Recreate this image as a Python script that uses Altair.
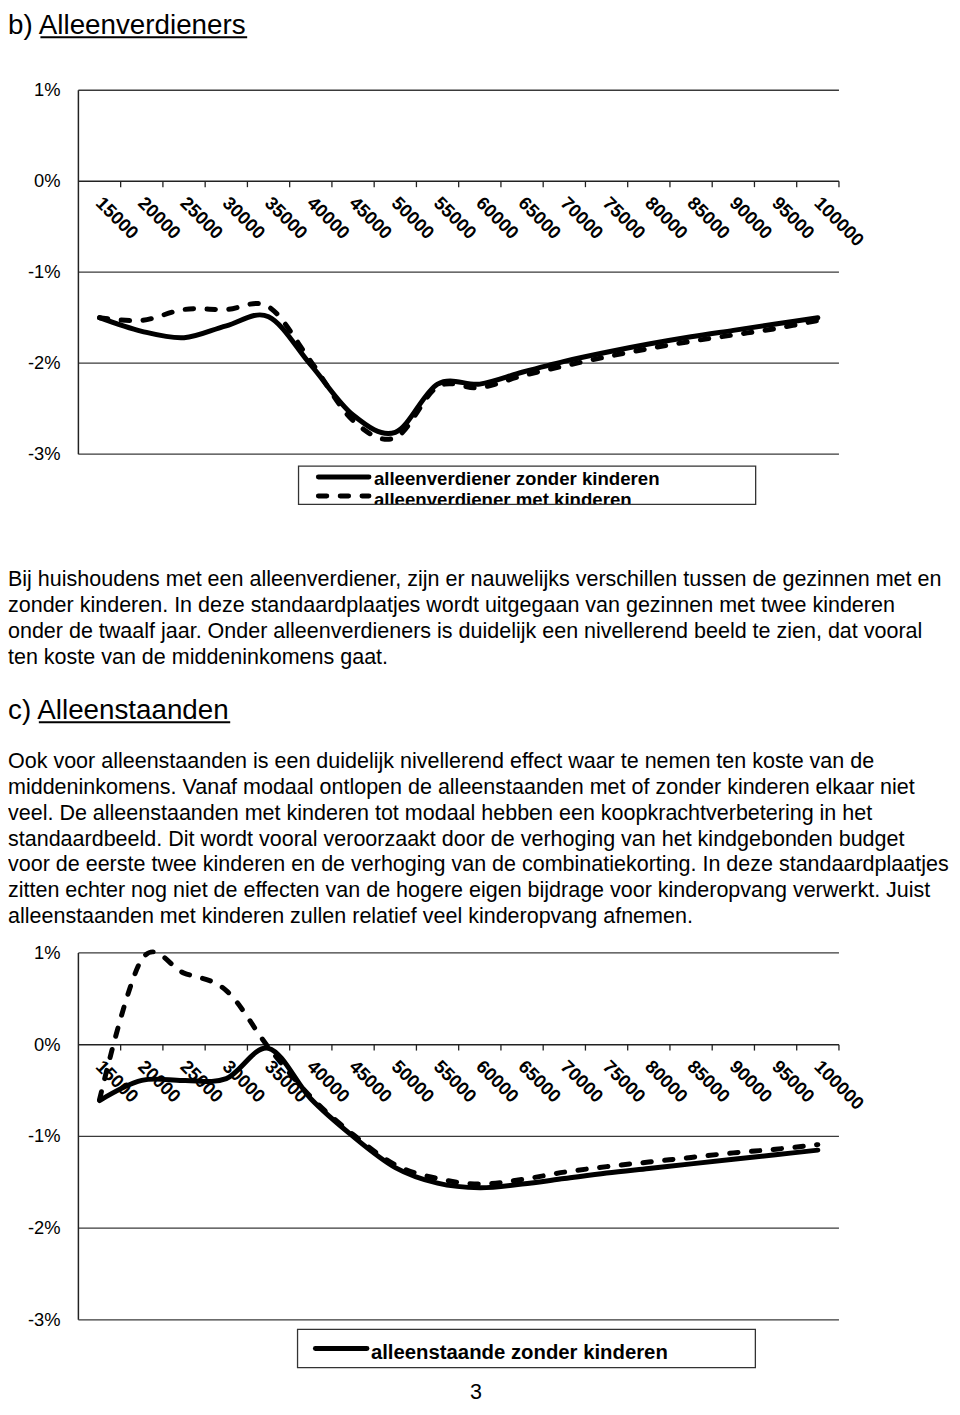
import altair as alt
import pandas as pd

FONT = "Liberation Sans"
W, H = 952, 1399

# ---------------- data ----------------
incomes = [15000, 20000, 25000, 30000, 35000, 40000, 45000, 50000, 55000,
           60000, 65000, 70000, 75000, 80000, 85000, 90000, 95000, 100000]
income_labels = ["15000", "20000", "25000", "30000", "35000", "40000", "45000",
                 "50000", "55000", "60000", "65000", "70000", "75000", "80000",
                 "85000", "90000", "95000", "100000"]
# category boundaries (tick marks sit between the categories)
tick_bounds = [17500, 22500, 27500, 32500, 37500, 42500, 47500, 52500, 57500,
               62500, 67500, 72500, 77500, 82500, 87500, 92500, 97500, 102500]
pct_values = [1, 0, -1, -2, -3]
pct_labels = ["1%", "0%", "-1%", "-2%", "-3%"]
grid_values = [1, -1, -2, -3]

ab_names = ["alleenverdiener zonder kinderen", "alleenverdiener met kinderen"]
ab_zonder = [-1.50, -1.65, -1.72, -1.59, -1.49, -2.02, -2.57, -2.76, -2.23,
             -2.23, -2.10, -1.98, -1.88, -1.79, -1.71, -1.64, -1.57, -1.50]
ab_met = [-1.50, -1.53, -1.41, -1.41, -1.38, -1.98, -2.63, -2.82, -2.26,
          -2.27, -2.14, -2.03, -1.93, -1.84, -1.76, -1.69, -1.62, -1.53]

as_names = ["alleenstaande zonder kinderen", "alleenstaande met kinderen"]
as_zonder = [-0.61, -0.39, -0.39, -0.37, -0.04, -0.59, -1.00, -1.34, -1.51,
             -1.56, -1.52, -1.46, -1.40, -1.35, -1.30, -1.25, -1.20, -1.15]
as_met = [-0.60, 0.93, 0.78, 0.59, -0.03, -0.57, -0.98, -1.31, -1.46,
          -1.52, -1.47, -1.39, -1.33, -1.28, -1.23, -1.18, -1.14, -1.09]

title_b = "b) Alleenverdieners"
para_b = [
    "Bij huishoudens met een alleenverdiener, zijn er nauwelijks verschillen tussen de gezinnen met en",
    "zonder kinderen. In deze standaardplaatjes wordt uitgegaan van gezinnen met twee kinderen",
    "onder de twaalf jaar. Onder alleenverdieners is duidelijk een nivellerend beeld te zien, dat vooral",
    "ten koste van de middeninkomens gaat.",
]
title_c = "c) Alleenstaanden"
para_c = [
    "Ook voor alleenstaanden is een duidelijk nivellerend effect waar te nemen ten koste van de",
    "middeninkomens. Vanaf modaal ontlopen de alleenstaanden met of zonder kinderen elkaar niet",
    "veel. De alleenstaanden met kinderen tot modaal hebben een koopkrachtverbetering in het",
    "standaardbeeld. Dit wordt vooral veroorzaakt door de verhoging van het kindgebonden budget",
    "voor de eerste twee kinderen en de verhoging van de combinatiekorting. In deze standaardplaatjes",
    "zitten echter nog niet de effecten van de hogere eigen bijdrage voor kinderopvang verwerkt. Juist",
    "alleenstaanden met kinderen zullen relatief veel kinderopvang afnemen.",
]
page_no = "3"

# ---------------- layout / style ----------------
XMIN, XMAX = 12500, 102500
XS = alt.Scale(domain=[XMIN, XMAX], range=[71, 838], nice=False, zero=False)
LINE_W = 5
DASH = [8.5, 13.5]
GRID_C = "#3a3a3a"
PARA_FS = 21.7
TITLE_FS = 28
CHART_FS = 18.5
XLAB_FS = 18.5
LEG1_FS = 18.8
LEG2_FS = 20.5
# screen offset of the rotated x labels from (category, 0%) -> rotated frame
_a, _b = -0.5, 19.0
XLAB_DX = (_a + _b) * 0.7071
XLAB_DY = (_b - _a) * 0.7071


def panel(zonder, met, top, bottom):
    ys = alt.Scale(domain=[-3, 1], range=[bottom, top], nice=False, zero=False)

    grid = alt.Chart(pd.DataFrame({"v": grid_values})).mark_rule(
        color=GRID_C, strokeWidth=1.3
    ).encode(
        x=alt.XDatum(XMIN, scale=XS, axis=None, type="quantitative"),
        x2=alt.X2Datum(XMAX),
        y=alt.Y("v:Q", scale=ys, axis=None),
    )
    zero = alt.Chart(pd.DataFrame({"v": [0]})).mark_rule(
        color="#222222", strokeWidth=1.5
    ).encode(
        x=alt.XDatum(XMIN, scale=XS, axis=None, type="quantitative"),
        x2=alt.X2Datum(XMAX),
        y=alt.Y("v:Q", scale=ys, axis=None),
    )
    ticks = alt.Chart(pd.DataFrame({"b": tick_bounds})).mark_rule(
        color="#222222", strokeWidth=1.3, y2Offset=6
    ).encode(
        x=alt.X("b:Q", scale=XS, axis=None),
        y=alt.YDatum(0, scale=ys, axis=None, type="quantitative"),
        y2=alt.Y2Datum(0),
    )
    yaxis = alt.Chart(pd.DataFrame({"v": [-3]})).mark_rule(
        color="#222222", strokeWidth=1.5
    ).encode(
        x=alt.XDatum(XMIN, scale=XS, axis=None, type="quantitative"),
        y=alt.Y("v:Q", scale=ys, axis=None),
        y2=alt.Y2Datum(1),
    )
    ylabels = alt.Chart(pd.DataFrame({"v": pct_values, "t": pct_labels})).mark_text(
        align="right", baseline="middle", dx=-18, font=FONT, fontSize=CHART_FS,
        color="black"
    ).encode(
        x=alt.XDatum(XMIN, scale=XS, axis=None, type="quantitative"),
        y=alt.Y("v:Q", scale=ys, axis=None),
        text="t:N",
    )
    xlabels = alt.Chart(pd.DataFrame({"inkomen": incomes, "t": income_labels})).mark_text(
        align="left", baseline="middle", angle=45, dx=XLAB_DX, dy=XLAB_DY,
        font=FONT, fontSize=XLAB_FS, fontWeight="bold", color="black"
    ).encode(
        x=alt.X("inkomen:Q", scale=XS, axis=None),
        y=alt.YDatum(0, scale=ys, axis=None, type="quantitative"),
        text="t:N",
    )
    solid = alt.Chart(pd.DataFrame({"inkomen": incomes, "waarde": zonder})).mark_line(
        interpolate="cardinal", color="black", strokeWidth=LINE_W,
        strokeCap="round", strokeJoin="round"
    ).encode(
        x=alt.X("inkomen:Q", scale=XS, axis=None),
        y=alt.Y("waarde:Q", scale=ys, axis=None),
    )
    dashed = alt.Chart(pd.DataFrame({"inkomen": incomes, "waarde": met})).mark_line(
        interpolate="cardinal", color="black", strokeWidth=LINE_W,
        strokeCap="round", strokeJoin="round", strokeDash=DASH
    ).encode(
        x=alt.X("inkomen:Q", scale=XS, axis=None),
        y=alt.Y("waarde:Q", scale=ys, axis=None),
    )
    return alt.layer(grid, zero, ticks, yaxis, ylabels, xlabels, solid, dashed)


def text_line(text, x, y, size, weight="normal", align="left"):
    return alt.Chart(pd.DataFrame({"t": [text]})).mark_text(
        align=align, baseline="alphabetic", font=FONT, fontSize=size,
        fontWeight=weight, color="black"
    ).encode(x=alt.value(x), y=alt.value(y), text="t:N")


def text_block(lines, first, step, size):
    n = len(lines)
    df = pd.DataFrame({"regel": list(range(n)), "tekst": lines})
    return alt.Chart(df).mark_text(
        align="left", baseline="alphabetic", font=FONT, fontSize=size, color="black"
    ).encode(
        x=alt.value(0),
        y=alt.Y("regel:Q", axis=None,
                scale=alt.Scale(domain=[0, n - 1], range=[first, first + step * (n - 1)],
                                nice=False, zero=False)),
        text="tekst:N",
    )


def hrule(x1, x2, y, width=2.0, color="black", dash=None, cap="butt"):
    kw = dict(color=color, strokeWidth=width, strokeCap=cap)
    if dash is not None:
        kw["strokeDash"] = dash
    return alt.Chart(pd.DataFrame({"k": [0]})).mark_rule(**kw).encode(
        x=alt.value(x1), x2=alt.value(x2), y=alt.value(y))


def box(x1, x2, y1, y2, fill="white", fill_opacity=0.0, stroke="#333333", sw=1.3):
    kw = dict(fill=fill, fillOpacity=fill_opacity, strokeWidth=sw)
    if stroke is not None:
        kw["stroke"] = stroke
    else:
        kw["strokeWidth"] = 0
    return alt.Chart(pd.DataFrame({"k": [0]})).mark_rect(**kw).encode(
        x=alt.value(x1), x2=alt.value(x2), y=alt.value(y1), y2=alt.value(y2))


# ----- section b -----
t_b = text_line(title_b, 0, 20, TITLE_FS)
u_b = hrule(32.7, 241.2, 23.6, 2.0)
p1 = panel(ab_zonder, ab_met, 77, 444)
leg1 = [
    text_line(ab_names[0], 369, 475.3, LEG1_FS, "bold"),
    text_line(ab_names[1], 369, 496.0, LEG1_FS, "bold"),
    box(290, 760, 495.0, 512, fill="white", fill_opacity=1.0, stroke=None),
    hrule(313, 364, 467, LINE_W, cap="round"),
    hrule(313, 364, 486.3, LINE_W, dash=DASH, cap="round"),
    box(293, 754, 456, 494.7),
]
pb = text_block(para_b, 577, 26.3, PARA_FS)

# ----- section c -----
t_c = text_line(title_c, 0, 710.7, TITLE_FS)
u_c = hrule(31.1, 224.1, 714.3, 2.0)
pc = text_block(para_c, 761, 25.9, PARA_FS)
p2 = panel(as_zonder, as_met, 947, 1317)
leg2 = [
    box(292, 753.7, 1326.7, 1365.3, fill="white", fill_opacity=1.0),
    hrule(310, 362, 1346, LINE_W, cap="round"),
    text_line(as_names[0], 366, 1356.3, LEG2_FS, "bold"),
]
pn = text_line(page_no, 472, 1397, PARA_FS, align="center")

chart = alt.layer(
    t_b, u_b, p1, *leg1, pb, t_c, u_c, pc, p2, *leg2, pn
).resolve_scale(
    y="independent"
).properties(
    width=W, height=H, padding=0,
    autosize=alt.AutoSizeParams(type="none"),
).configure_view(strokeWidth=0)

chart.save("out.html", embed_options={"renderer": "svg", "actions": False})
